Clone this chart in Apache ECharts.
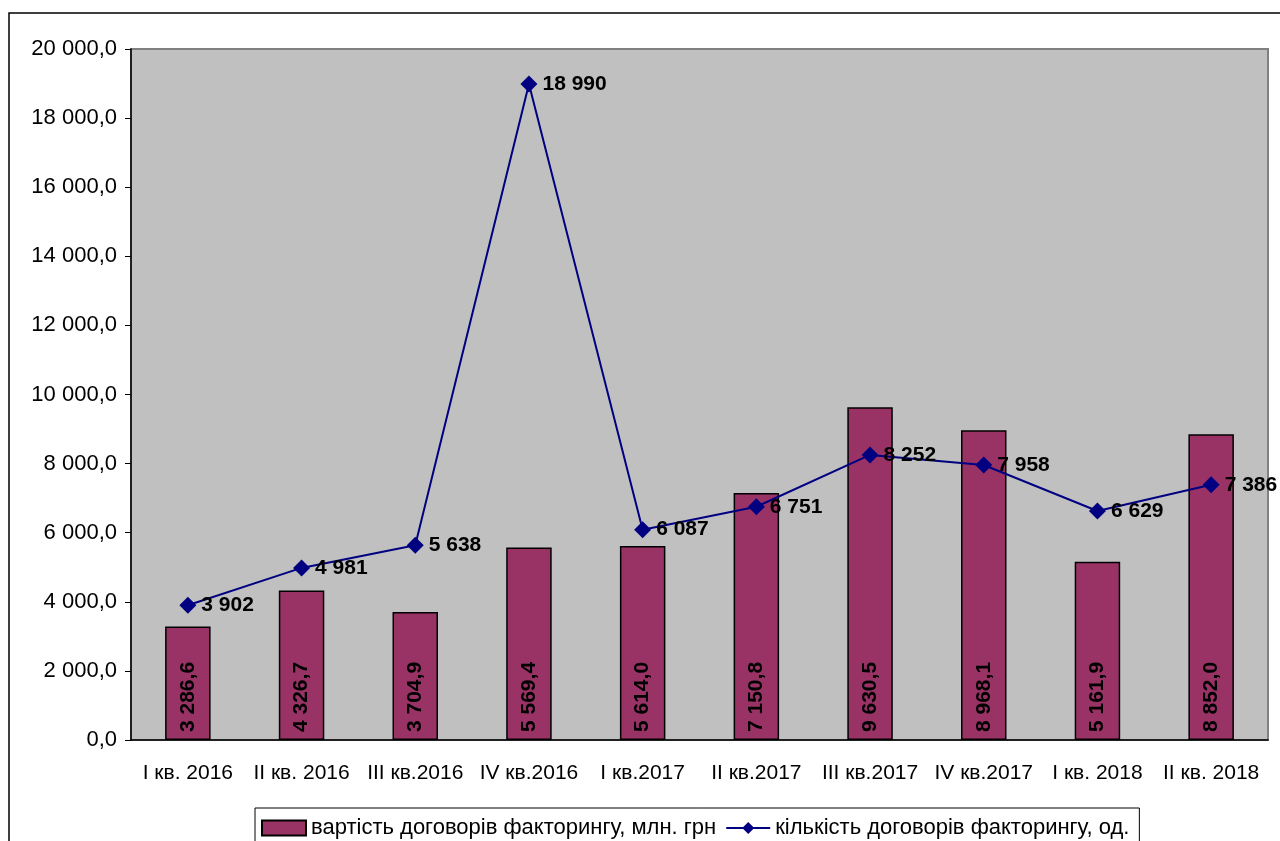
<!DOCTYPE html>
<html>
<head>
<meta charset="utf-8">
<title>Факторинг</title>
<script src="https://cdn.jsdelivr.net/npm/echarts@6/dist/echarts.min.js"></script>
<style>
    html, body {margin: 0; padding: 0; background: #fff;}
    #J_chart {width: 1280px; height: 841px;}
</style>
</head>
<body>
<div id="J_chart"></div>
<script>
// дані
var quarters = ['I кв. 2016', 'II кв. 2016', 'III кв.2016', 'IV кв.2016', 'I кв.2017',
    'II кв.2017', 'III кв.2017', 'IV кв.2017', 'I кв. 2018', 'II кв. 2018'];
var contractValue = [3286.6, 4326.7, 3704.9, 5569.4, 5614.0, 7150.8, 9630.5, 8968.1, 5161.9, 8852.0];
var contractCount = [3902, 4981, 5638, 18990, 6087, 6751, 8252, 7958, 6629, 7386];
var valueName = 'вартість договорів факторингу, млн. грн';
var countName = 'кількість договорів факторингу, од.';

var FONT = '"Liberation Sans", Arial, sans-serif';

// 20000.5 -> "20 000,5"
function fmt(v, dec) {
    var s = v.toFixed(dec).split('.');
    var int = s[0].replace(/\B(?=(\d{3})+(?!\d))/g, ' ');
    return s.length > 1 ? int + ',' + s[1] : int;
}

var chart = echarts.init(document.getElementById('J_chart'));
var option = {
    animation: false,
    textStyle: {fontFamily: FONT},
    // рамка навколо діаграми
    graphic: [{
        type: 'rect',
        shape: {x: 9, y: 13, width: 1400, height: 1000},
        style: {fill: 'none', stroke: '#000', lineWidth: 1.5},
        silent: true
    }],
    grid: {
        left: 131,
        right: 12,
        top: 49,
        bottom: 101,
        show: true,
        backgroundColor: '#C0C0C0',
        borderColor: '#808080',
        borderWidth: 2
    },
    legend: {
        left: 255,
        top: 808,
        padding: [9, 10, 8, 6],
        borderColor: '#000',
        borderWidth: 1,
        itemWidth: 44,
        itemHeight: 15,
        itemGap: 9,
        textStyle: {fontSize: 22, color: '#000', fontFamily: FONT},
        data: [
            {name: valueName, icon: 'rect'},
            {name: countName}
        ]
    },
    xAxis: {
        type: 'category',
        data: quarters,
        axisLine: {lineStyle: {color: '#000', width: 1.5}},
        axisTick: {length: 7, lineStyle: {color: '#000'}},
        axisLabel: {fontSize: 21, color: '#000', margin: 23, interval: 0, fontFamily: FONT}
    },
    yAxis: {
        type: 'value',
        min: 0,
        max: 20000,
        interval: 2000,
        splitLine: {show: false},
        axisLine: {show: true, lineStyle: {color: '#000', width: 1.5}},
        axisTick: {show: true, length: 6, lineStyle: {color: '#000'}},
        axisLabel: {
            fontSize: 22, color: '#000', margin: 14, fontFamily: FONT,
            formatter: function(v) { return fmt(v, 1); }
        }
    },
    series: [{
        name: valueName,
        type: 'bar',
        data: contractValue,
        barWidth: '40%',
        itemStyle: {color: '#993366', borderColor: '#000', borderWidth: 1.5},
        label: {
            show: true,
            position: 'insideBottom',
            rotate: 90,
            align: 'left',
            verticalAlign: 'middle',
            distance: 8,
            fontSize: 21,
            fontWeight: 'bold',
            color: '#000',
            fontFamily: FONT,
            formatter: function(p) { return fmt(p.value, 1); }
        }
    }, {
        name: countName,
        type: 'line',
        data: contractCount,
        symbol: 'diamond',
        symbolSize: 17,
        color: '#000080',
        lineStyle: {color: '#000080', width: 2},
        itemStyle: {color: '#000080'},
        label: {
            show: true,
            position: 'right',
            distance: 5,
            fontSize: 21,
            fontWeight: 'bold',
            color: '#000',
            fontFamily: FONT,
            formatter: function(p) { return fmt(p.value, 0); }
        }
    }]
};
chart.setOption(option);
</script>
</body>
</html>
